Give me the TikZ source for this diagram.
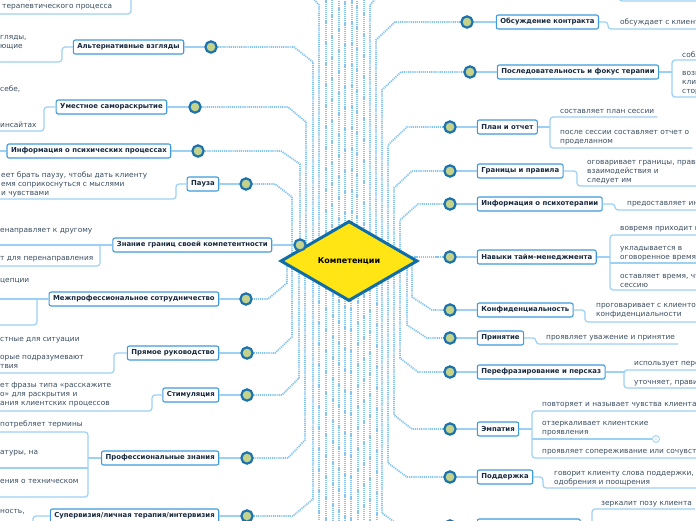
\documentclass[tikz,border=0pt]{standalone}
\usepackage{fontspec}
\setmainfont{DejaVu Sans}
\usetikzlibrary{positioning,shapes.geometric}

\definecolor{hubyellow}{HTML}{FFE514}
\definecolor{hubblue}{HTML}{0F6DAA}
\definecolor{knotgreen}{HTML}{C4D28A}
\definecolor{knotblue}{HTML}{1A72B0}
\definecolor{topicblue}{HTML}{3D9BDB}
\definecolor{topictext}{HTML}{172A40}
\definecolor{leaftext}{HTML}{3A4E62}
\definecolor{trailblue}{HTML}{86C5EE}
\definecolor{twigblue}{HTML}{9CD1F3}

\pgfdeclarelayer{back}
\pgfsetlayers{back,main}

\tikzset{
  hub/.style={diamond, draw=hubblue, line width=3pt, fill=hubyellow, minimum width=137pt, minimum height=80pt, inner sep=0pt, font=\bfseries\fontsize{8}{9}\selectfont},
  knot/.style={circle, draw=knotblue, line width=2.2pt, fill=knotgreen, minimum size=11.3pt, inner sep=0pt},
  topic/.style={draw=topicblue, line width=1.1pt, rounded corners=2pt, fill=white, text=topictext, font=\bfseries\fontsize{6.9}{8}\selectfont, minimum height=14pt, inner xsep=4pt, inner ysep=0pt},
  leaf/.style={text=leaftext, font=\fontsize{7.4}{9}\selectfont, align=left, inner xsep=3pt, inner ysep=0pt},
  hint/.style={circle, draw=twigblue, line width=0.8pt, fill=white, text=twigblue, minimum size=7pt, inner sep=0pt, font=\fontsize{4.5}{5}\selectfont},
  trail/.style={draw=trailblue, line width=1.8pt, dash pattern=on 1.2pt off 0.9pt},
  stem/.style={draw=twigblue, line width=1.4pt},
  twig/.style={draw=twigblue, line width=1.2pt, rounded corners=3pt},
}

\begin{document}
\begin{tikzpicture}[x=1pt, y=-1pt]
\useasboundingbox (0,0) rectangle (696,520);

\node[hub] (hub) at (349,261) {Компетенции};

% right branches
\node[knot] (k1) at (467,22) {};
\node[topic, right=22pt of k1] (t1) {Обсуждение контракта};
\node[knot] (k2) at (470,72) {};
\node[topic, right=20pt of k2] (t2) {Последовательность и фокус терапии};
\node[knot] (k3) at (450,127) {};
\node[topic, right=20pt of k3] (t3) {План и отчет};
\node[knot] (k4) at (450,171) {};
\node[topic, right=20pt of k4] (t4) {Границы и правила};
\node[knot] (k5) at (450,204) {};
\node[topic, right=20pt of k5] (t5) {Информация о психотерапии};
\node[knot] (k6) at (450,257) {};
\node[topic, right=20pt of k6] (t6) {Навыки тайм-менеджмента};
\node[knot] (k7) at (450,310) {};
\node[topic, right=20pt of k7] (t7) {Конфиденциальность};
\node[knot] (k8) at (450,338) {};
\node[topic, right=20pt of k8] (t8) {Принятие};
\node[knot] (k9) at (450,372) {};
\node[topic, right=20pt of k9] (t9) {Перефразирование и персказ};
\node[knot] (k10) at (450,429) {};
\node[topic, right=20pt of k10] (t10) {Эмпатия};
\node[knot] (k11) at (450,477) {};
\node[topic, right=20pt of k11] (t11) {Поддержка};
\node[knot] (k12) at (450,526) {};
\node[topic, right=20pt of k12, minimum width=103pt] (t12) {};

% left branches
\node[knot] (q1) at (211,47) {};
\node[topic, left=20pt of q1] (s1) {Альтернативные взгляды};
\node[knot] (q2) at (195,107) {};
\node[topic, left=21pt of q2] (s2) {Уместное самораскрытие};
\node[knot] (q3) at (198,151) {};
\node[topic, left=20pt of q3] (s3) {Информация о психических процессах};
\node[knot] (q4) at (246,184) {};
\node[topic, left=20pt of q4] (s4) {Пауза};
\node[knot] (q5) at (300,245) {};
\node[topic, left=21pt of q5] (s5) {Знание границ своей компетентности};
\node[knot] (q6) at (246,299) {};
\node[topic, left=20pt of q6] (s6) {Межпрофессиональное сотрудничество};
\node[knot] (q7) at (247,353) {};
\node[topic, left=21pt of q7] (s7) {Прямое руководство};
\node[knot] (q8) at (247,395) {};
\node[topic, left=21pt of q8] (s8) {Стимуляция};
\node[knot] (q9) at (247,458) {};
\node[topic, left=21pt of q9] (s9) {Профессиональные знания};
\node[knot] (q10) at (247,516) {};
\node[topic, left=21pt of q10] (s10) {Супервизия/личная терапия/интервизия};

\foreach \i in {1,...,12} \draw[stem] (k\i) -- (t\i);
\foreach \i in {1,...,10} \draw[stem] (q\i) -- (s\i);

% leaves, right
\node[leaf, anchor=west] (f1) at (617,22) {обсуждает с клиентом};
\draw[twig] (t1.east) -| (608,29) -- (700,29);

\node[leaf, anchor=west] (f2a) at (679,55) {соблюдает};
\node[leaf, anchor=west] (f2b) at (679,83) {возвращает\\клиента к теме\\сторону};
\draw[twig] (t2.east) -- (t2.east -| 672,0);
\draw[twig] (700,60) -| (672,97) -- (700,97);

\node[leaf, anchor=west] (f3a) at (557,111) {составляет план сессии};
\node[leaf, anchor=west] (f3b) at (557,137.5) {после сессии составляет отчет о\\проделанном};
\draw[twig] (t3.east) -- (t3.east -| 550,0);
\draw[twig] (f3a.east |- 0,117) -| (550,148) -- (f3b.east |- 0,148);

\node[leaf, anchor=west] (f4) at (584,172) {оговаривает границы, правила\\взаимодействия и\\следует им};
\draw[twig] (t4.east) -| (577,186) -- (700,186);

\node[leaf, anchor=west] (f5) at (624,204) {предоставляет информацию};
\draw[twig] (t5.east) -| (615,210) -- (700,210);

\node[leaf, anchor=west] (f6a) at (617,229) {вовремя приходит на сессию};
\node[leaf, anchor=west] (f6b) at (617,253.5) {укладывается в\\оговоренное время};
\node[leaf, anchor=west] (f6c) at (617,280.5) {оставляет время, чтобы завершить\\сессию};
\draw[twig] (t6.east) -- (t6.east -| 610,0);
\draw[twig] (700,235) -| (610,290) -- (700,290);
\draw[twig] (610,263) -- (f6b.east |- 0,263);

\node[leaf, anchor=west] (f7) at (593,310.5) {проговаривает с клиентом вопросы\\конфиденциальности};
\draw[twig] (t7.east) -| (585,322) -- (700,322);

\node[leaf, anchor=west] (f8) at (543,338) {проявляет уважение и принятие};
\draw[twig] (t8.east) -| (536,344) -- (f8.east |- 0,344);

\node[leaf, anchor=west] (f9a) at (631,364) {использует перефразирование};
\node[leaf, anchor=west] (f9b) at (631,383) {уточняет, правильно ли понял};
\draw[twig] (t9.east) -- (t9.east -| 624,0);
\draw[twig] (700,370) -| (624,388) -- (700,388);

\node[leaf, anchor=west] (f10a) at (539,405) {повторяет и называет чувства клиента};
\node[leaf, anchor=west] (f10b) at (539,428.5) {отзеркаливает клиентские\\проявления};
\node[leaf, anchor=west] (f10c) at (539,452) {проявляет сопереживание или сочувствие};
\node[hint] (m10) at (656,439) {1};
\draw[twig] (t10.east) -- (t10.east -| 532,0);
\draw[twig] (700,411) -| (532,458) -- (700,458);
\draw[twig] (532,439) -- (m10);

\node[leaf, anchor=west] (f11) at (551,478.5) {говорит клиенту слова поддержки,\\одобрения и поощрения};
\draw[twig] (t11.east) -| (543,488) -- (f11.east |- 0,488);

\node[leaf, anchor=west] (f12) at (598,504) {зеркалит позу клиента};
\draw[twig] (t12.east) -- (t12.east -| 592,0);
\draw[twig] (f12.east |- 0,509) -| (592,540);

\draw[twig] (619,-8) |- (700,1);

% leaves, left
\node[leaf, anchor=west] (g0) at (-1,2.5) {категории, важные для\\терапевтического процесса};
\draw[twig] (-5,14) -| (131,-8);

\node[leaf, anchor=west] (g1) at (-3,42.5) {гляды,\\ющие};
\draw[twig] (s1.west) -| (62,62) -- (-5,62);

\node[leaf, anchor=west] (g2a) at (-3,89) {себе,};
\node[leaf, anchor=west] (g2b) at (-3,125) {инсайтах};
\draw[twig] (s2.west) -| (44,131) -- (-5,131);

\draw[twig] (s3.west) -- (s3.west -| -5,0);

\node[leaf, anchor=west] (g4) at (-2,184) {еет брать паузу, чтобы дать клиенту\\емя соприкоснуться с мыслями\\и чувствами};
\draw[twig] (s4.west) -| (176,199) -- (-5,199);

\node[leaf, anchor=west] (g5a) at (-3,231) {енаправляет к другому};
\node[leaf, anchor=west] (g5b) at (-3,259) {т для перенаправления};
\draw[twig] (s5.west) -- (s5.west -| -5,0);
\draw[twig] (100,245) |- (-5,266);

\node[leaf, anchor=west] (g6) at (-3,281) {цепции};
\draw[twig] (s6.west) -- (s6.west -| -5,0);
\draw[twig] (37,299) |- (-5,325);

\node[leaf, anchor=west] (g7a) at (-3,340) {стные для ситуации};
\node[leaf, anchor=west] (g7b) at (-3,361.5) {орые подразумевают\\твия};
\draw[twig] (s7.west) -| (114,373) -- (-5,373);

\node[leaf, anchor=west] (g8) at (-3,395) {ет фразы типа «расскажите\\о» для раскрытия и\\ания клиентских процессов};
\draw[twig] (s8.west) -| (152,411) -- (-5,411);

\node[leaf, anchor=west] (g9a) at (-3,424) {потребляет термины};
\node[leaf, anchor=west] (g9b) at (-3,453) {атуры, на};
\node[leaf, anchor=west] (g9c) at (-3,481) {ения о техническом};
\draw[twig] (s9.west) -- (s9.west -| 88,0);
\draw[twig] (-5,432) -| (88,497) -- (-5,497);
\draw[twig] (88,468) -- (-5,468);

\node[leaf, anchor=west] (g10) at (-3,512) {ность,};
\draw[twig] (s10.west) -| (33,540);

% dotted trails behind the hub
\begin{pgfonlayer}{back}
\draw[trail] (hub.center) -| (376,40) -- (395,22) -- (k1);
\draw[trail] (hub.center) -| (382,90) -- (401,72) -- (k2);
\draw[trail] (hub.center) -| (388,145) -- (407,127) -- (k3);
\draw[trail] (hub.center) -| (394,188) -- (412,171) -- (k4);
\draw[trail] (hub.center) -| (400,220) -- (418,204) -- (k5);
\draw[trail] (hub.center) |- (k6);
\draw[trail] (hub.center) -| (412,297) -- (432,310) -- (k7);
\draw[trail] (hub.center) -| (407,325) -- (427,338) -- (k8);
\draw[trail] (hub.center) -| (400,358) -- (418,372) -- (k9);
\draw[trail] (hub.center) -| (394,415) -- (412,429) -- (k10);
\draw[trail] (hub.center) -| (388,463) -- (407,477) -- (k11);
\draw[trail] (hub.center) -| (382,513) -- (400,526) -- (k12);

\draw[trail] (hub.center) -| (313,62) -- (294,47) -- (q1);
\draw[trail] (hub.center) -| (306,122) -- (288,107) -- (q2);
\draw[trail] (hub.center) -| (300,164) -- (281,151) -- (q3);
\draw[trail] (hub.center) -| (292,197) -- (275,184) -- (q4);
\draw[trail] (hub.center) -- (q5);
\draw[trail] (hub.center) -| (287,283) -- (268,299) -- (q6);
\draw[trail] (hub.center) -| (292,337) -- (275,353) -- (q7);
\draw[trail] (hub.center) -| (299,378) -- (282,395) -- (q8);
\draw[trail] (hub.center) -| (305,440) -- (288,458) -- (q9);
\draw[trail] (hub.center) -| (313,499) -- (293,516) -- (q10);

% to branches outside the view
\foreach \x in {326,332,339,345,352,357,364}
  \draw[trail] (hub.center) -| (\x,-5);
\draw[trail] (hub.center) -| (319,5) -- (312,-3);
\draw[trail] (hub.center) -| (370,5) -- (377,-3);
\foreach \x in {319,326,333,339,345,351,358,364,370,377}
  \draw[trail] (hub.center) -| (\x,525);
\end{pgfonlayer}
\end{tikzpicture}
\end{document}
